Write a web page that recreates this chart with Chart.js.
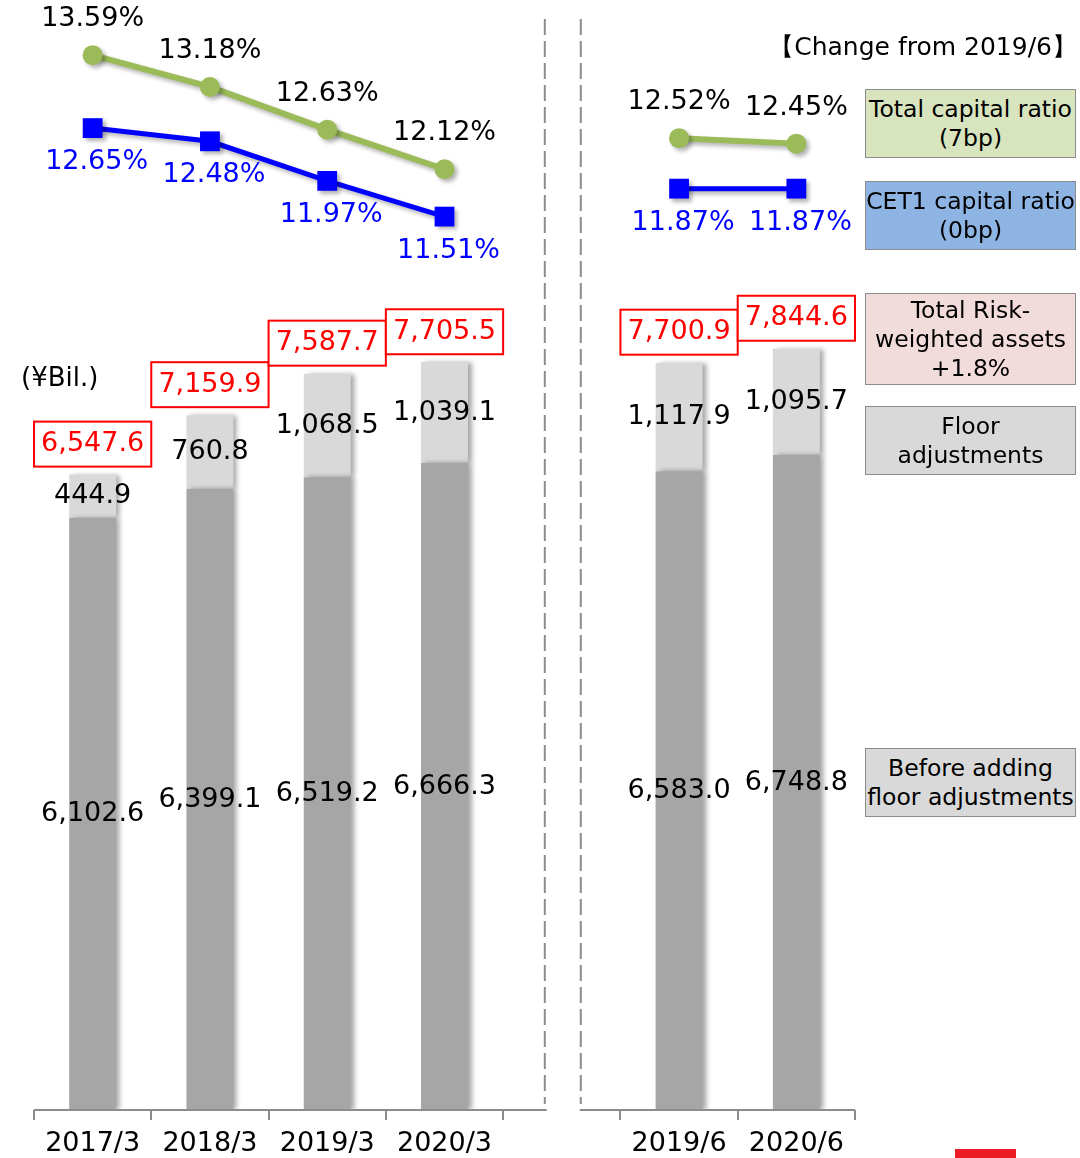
<!DOCTYPE html>
<html>
<head>
<meta charset="utf-8">
<script src="https://cdn.jsdelivr.net/npm/chart.js@4.4.1/dist/chart.umd.min.js"></script>
<style>
    body { margin: 0; background: #fff; font-family: "DejaVu Sans", Verdana, sans-serif; }
    #wrap { position: relative; width: 1080px; height: 1158px; overflow: hidden; }
    #chart { position: absolute; left: 0; top: 0; }
    .note { position: absolute; color: #000; white-space: nowrap; }
    .box {
        position: absolute; left: 865px; width: 211px;
        border: 1.5px solid #8c8c8c; box-sizing: border-box;
        display: flex; align-items: center; justify-content: center;
        text-align: center; font-size: 23.5px; line-height: 29px; color: #000;
    }
    .redmark { position: absolute; left: 955px; top: 1149px; width: 61px; height: 9px; background: #ed1c24; }
</style>
</head>
<body>
<div id="wrap">
    <canvas id="chart" width="1080" height="1158"></canvas>
    <div class="note" style="left:21px; top:362px; font-size:26px;">(¥Bil.)</div>
    <div class="note" style="right:3px; top:30px; font-size:25px;">【Change from 2019/6】</div>
    <div class="box" style="top:89px; height:69px; background:#d7e4bd;">Total capital ratio<br>(7bp)</div>
    <div class="box" style="top:181px; height:69px; background:#8eb4e3;">CET1 capital ratio<br>(0bp)</div>
    <div class="box" style="top:293px; height:92px; background:#f2dcdb;">Total Risk-<br>weighted assets<br>+1.8%</div>
    <div class="box" style="top:406px; height:69px; background:#d9d9d9;">Floor<br>adjustments</div>
    <div class="box" style="top:748px; height:69px; background:#d9d9d9;">Before adding<br>floor adjustments</div>
    <div class="redmark"></div>
</div>
<script>
// ===== Data =====
const categories = ['2017/3', '2018/3', '2019/3', '2020/3', '', '2019/6', '2020/6'];
const beforeFloor = [6102.6, 6399.1, 6519.2, 6666.3, null, 6583.0, 6748.8];
const floorAdj = [444.9, 760.8, 1068.5, 1039.1, null, 1117.9, 1095.7];
const totalRwa = [6547.6, 7159.9, 7587.7, 7705.5, null, 7700.9, 7844.6];
const totalCapRatio = [13.59, 13.18, 12.63, 12.12, null, 12.52, 12.45];
const cet1Ratio = [12.65, 12.48, 11.97, 11.51, null, 11.87, 11.87];

const FONT = '"DejaVu Sans", Verdana, sans-serif';
const AXIS_GREY = '#8c8c8c';

function fmtAmount(v) {
    return v.toLocaleString('en-US', { minimumFractionDigits: 1, maximumFractionDigits: 1 });
}

// ===== Soft shadows under bars and lines =====
const shadowPlugin = {
    id: 'shadows',
    beforeDatasetDraw(chart, args) {
        const ctx = chart.ctx;
        ctx.save();
        if (args.meta.type === 'bar') {
            ctx.shadowColor = 'rgba(0,0,0,0.35)';
            ctx.shadowBlur = 5;
            ctx.shadowOffsetX = 4;
            ctx.shadowOffsetY = 0;
        } else {
            ctx.shadowColor = 'rgba(0,0,0,0.3)';
            ctx.shadowBlur = 4;
            ctx.shadowOffsetX = 3;
            ctx.shadowOffsetY = 3;
        }
    },
    afterDatasetDraw(chart) {
        chart.ctx.restore();
    }
};

// ===== Baseline with a gap, and the two dashed dividers =====
const dividerPlugin = {
    id: 'dividers',
    afterDraw(chart) {
        const ctx = chart.ctx;
        const x = chart.scales.x;
        const area = chart.chartArea;
        const mid = x.getPixelForValue(4);
        ctx.save();
        ctx.strokeStyle = AXIS_GREY;
        ctx.lineWidth = 2;
        ctx.beginPath();
        ctx.moveTo(x.left, area.bottom);
        ctx.lineTo(mid - 15, area.bottom);
        ctx.moveTo(mid + 18, area.bottom);
        ctx.lineTo(x.right, area.bottom);
        ctx.stroke();

        ctx.setLineDash([16, 6]);
        ctx.beginPath();
        [mid - 17, mid + 19].forEach(px => {
            ctx.moveTo(px, 19);
            ctx.lineTo(px, area.bottom - 6);
        });
        ctx.stroke();
        ctx.restore();
    }
};

// ===== Value labels =====
const labelPlugin = {
    id: 'valueLabels',
    afterDatasetsDraw(chart) {
        const ctx = chart.ctx;
        const x = chart.scales.x;
        const catW = x.getPixelForValue(1) - x.getPixelForValue(0);
        ctx.save();
        ctx.font = '27px ' + FONT;
        ctx.textAlign = 'center';
        ctx.textBaseline = 'middle';

        // segment labels
        [0, 1].forEach(di => {
            const meta = chart.getDatasetMeta(di);
            const vals = chart.data.datasets[di].data;
            meta.data.forEach((bar, i) => {
                if (vals[i] == null) return;
                ctx.fillStyle = '#000';
                ctx.fillText(fmtAmount(vals[i]), bar.x, (bar.y + bar.base) / 2);
            });
        });

        // totals in red boxes
        const top = chart.getDatasetMeta(1);
        top.data.forEach((bar, i) => {
            if (totalRwa[i] == null) return;
            const bottom = bar.y - 8;
            const h = 45;
            ctx.fillStyle = '#fff';
            ctx.fillRect(bar.x - catW / 2, bottom - h, catW, h);
            ctx.strokeStyle = '#ff0000';
            ctx.lineWidth = 2;
            ctx.strokeRect(bar.x - catW / 2, bottom - h, catW, h);
            ctx.fillStyle = '#ff0000';
            ctx.fillText(fmtAmount(totalRwa[i]), bar.x, bottom - h / 2);
        });

        // ratio labels
        const green = chart.getDatasetMeta(2);
        green.data.forEach((pt, i) => {
            if (totalCapRatio[i] == null) return;
            ctx.fillStyle = '#000';
            ctx.fillText(totalCapRatio[i].toFixed(2) + '%', pt.x, pt.y - 36);
        });
        const blue = chart.getDatasetMeta(3);
        blue.data.forEach((pt, i) => {
            if (cet1Ratio[i] == null) return;
            ctx.fillStyle = '#0000ff';
            ctx.fillText(cet1Ratio[i].toFixed(2) + '%', pt.x + 4, pt.y + 34);
        });
        ctx.restore();
    }
};

// ===== Chart =====
new Chart(document.getElementById('chart'), {
    type: 'bar',
    data: {
        labels: categories,
        datasets: [
            {
                label: 'Before adding floor adjustments',
                data: beforeFloor,
                backgroundColor: '#a6a6a6',
                stack: 'rwa',
                yAxisID: 'y',
                categoryPercentage: 1,
                barPercentage: 0.4,
                order: 2
            },
            {
                label: 'Floor adjustments',
                data: floorAdj,
                backgroundColor: '#d9d9d9',
                stack: 'rwa',
                yAxisID: 'y',
                categoryPercentage: 1,
                barPercentage: 0.4,
                order: 2
            },
            {
                type: 'line',
                label: 'Total capital ratio',
                data: totalCapRatio,
                yAxisID: 'y2',
                borderColor: '#9bbb59',
                borderWidth: 6,
                pointStyle: 'circle',
                pointRadius: 10,
                pointBackgroundColor: '#9bbb59',
                pointBorderWidth: 0,
                spanGaps: false,
                order: 1
            },
            {
                type: 'line',
                label: 'CET1 capital ratio',
                data: cet1Ratio,
                yAxisID: 'y2',
                borderColor: '#0000ff',
                borderWidth: 5,
                pointStyle: 'rect',
                pointRadius: 14,
                pointBackgroundColor: '#0000ff',
                pointBorderWidth: 0,
                spanGaps: false,
                order: 1
            }
        ]
    },
    options: {
        responsive: false,
        animation: false,
        layout: { padding: { left: 34, right: 225, top: 10, bottom: 0 } },
        plugins: {
            legend: { display: false },
            tooltip: { enabled: false }
        },
        scales: {
            x: {
                stacked: true,
                border: { display: false },
                grid: {
                    display: true,
                    offset: true,
                    drawOnChartArea: false,
                    drawTicks: true,
                    tickLength: 10,
                    color: AXIS_GREY,
                    lineWidth: 2
                },
                ticks: {
                    color: '#000',
                    font: { family: FONT, size: 27 },
                    padding: 8,
                    maxRotation: 0,
                    autoSkip: false
                },
                afterFit(axis) { axis.height = 48; }
            },
            y: {
                stacked: true,
                display: false,
                min: 0,
                max: 11294
            },
            y2: {
                display: false,
                min: 0,
                max: 14.12
            }
        }
    },
    plugins: [shadowPlugin, dividerPlugin, labelPlugin]
});
</script>
</body>
</html>
